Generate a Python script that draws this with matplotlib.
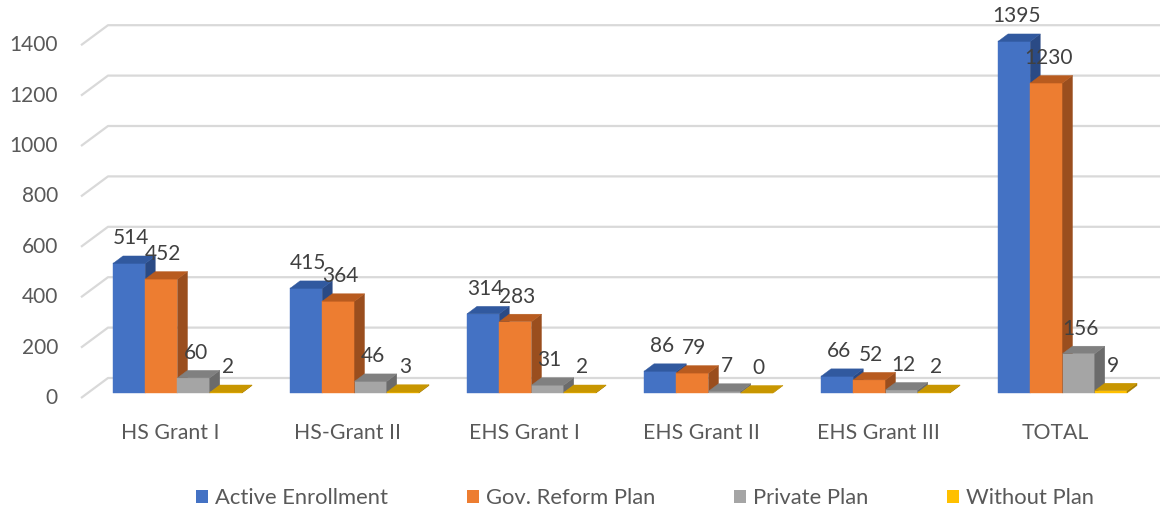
import matplotlib.pyplot as plt
from matplotlib.patches import Polygon, Rectangle

categories = ["HS Grant I", "HS-Grant II", "EHS Grant I", "EHS Grant II", "EHS Grant III", "TOTAL"]
series_names = ["Active Enrollment", "Gov. Reform Plan", "Private Plan", "Without Plan"]
active = [514, 415, 314, 86, 66, 1395]
gov_reform = [452, 364, 283, 79, 52, 1230]
private = [60, 46, 31, 7, 12, 156]
without_plan = [2, 3, 2, 0, 2, 9]
y_ticks = [0, 200, 400, 600, 800, 1000, 1200, 1400]

series = [active, gov_reform, private, without_plan]
# front, top, side colours for the fake 3D look
face_cols = ["#4472C4", "#ED7D31", "#A5A5A5", "#FFC000"]
top_cols = ["#31599F", "#B85B1F", "#808080", "#C89600"]
side_cols = ["#2A4A85", "#9A4E1E", "#6B6B6B", "#A67C00"]

plt.rcParams['font.family'] = ['Lato', 'DejaVu Sans']

W, H = 1160, 516
fig = plt.figure(figsize=(W / 100, H / 100), dpi=100)
ax = fig.add_axes([0, 0, 1, 1])

# pixel based scale: one category = 177 px, 1 unit of value = 0.252 px
px_per_cat = 177.0
px_per_val = 0.252
x0_px, y0_px = 177.5, 393.0
ax.set_xlim(-x0_px / px_per_cat, (W - x0_px) / px_per_cat)
ax.set_ylim((y0_px - H) / px_per_val, y0_px / px_per_val)
ax.axis('off')

ux = 1 / px_per_cat
uy = 1 / px_per_val

# gridlines: short diagonal on the side wall + line along the back wall
left_front = (81 - x0_px) * ux
for v in y_ticks:
    xs = [left_front, left_front + 27 * ux, ax.get_xlim()[1]]
    ys = [v - 5 * uy, v + 15 * uy, v + 15 * uy]
    ax.plot(xs, ys, color="#D9D9D9", lw=1.6, zorder=0, solid_capstyle='butt')
    ax.text(left_front - 23 * ux, v - 5 * uy, str(v), ha='right', va='center',
            fontsize=15, color="#595959")

bw = 32.25 * ux
ddx, ddy = 10 * ux, 7.5 * uy

for i, cat in enumerate(categories):
    for k, vals in enumerate(series):
        v = vals[i]
        xc = i + (k - 1.5) * bw
        xl, xr = xc - bw / 2, xc + bw / 2
        ax.bar(xc, v, width=bw, color=face_cols[k], edgecolor=face_cols[k],
               lw=0.3, zorder=2 + i * 10 + k * 2)
        side = Polygon([(xr, 0), (xr + ddx, ddy), (xr + ddx, v + ddy), (xr, v)],
                       closed=True, facecolor=side_cols[k], edgecolor=side_cols[k],
                       lw=0.3, zorder=2 + i * 10 + k * 2)
        top = Polygon([(xl, v), (xr, v), (xr + ddx, v + ddy), (xl + ddx, v + ddy)],
                      closed=True, facecolor=top_cols[k], edgecolor=top_cols[k],
                      lw=0.3, zorder=2.5 + i * 10 + k * 2)
        ax.add_patch(side)
        ax.add_patch(top)
        ax.text(xc + 2 * ux, v + 25 * uy, str(v), ha='center', va='center',
                fontsize=15, color="#404040", zorder=100)
    ax.text(i - 7 * ux, -40 * uy, cat, ha='center', va='center',
            fontsize=15.3, color="#595959")

handles = [Rectangle((0, 0), 1, 1, facecolor=c, edgecolor='none') for c in face_cols]
fig.legend(handles, series_names, loc='center', bbox_to_anchor=(0.556, 0.035), ncol=4,
           frameon=False, fontsize=15.8, handlelength=0.55, handleheight=0.55,
           handletextpad=0.3, columnspacing=3.6, labelcolor="#595959")

plt.savefig('out.png', dpi=100)
